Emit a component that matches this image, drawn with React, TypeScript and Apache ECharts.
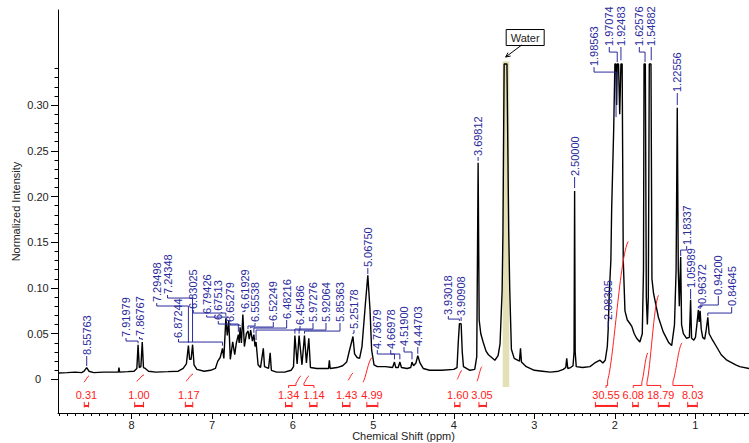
import { useEffect, useRef } from 'react';
import * as echarts from 'echarts';

const FONT = '"Liberation Sans", Arial, sans-serif';
const BLUE = '#2a2a9c';
const RED = '#ff2020';

// Spectrum trace: [chemical shift (ppm), normalized intensity]
const SPECTRUM: [number, number][] = [
  [8.91, 0.007], [8.8, 0.0075], [8.7, 0.008], [8.62, 0.0075], [8.59, 0.009], [8.558, 0.013], [8.53, 0.009],
  [8.47, 0.0075], [8.35, 0.008], [8.22, 0.008], [8.165, 0.008], [8.157, 0.013], [8.149, 0.008], [8.05, 0.0085],
  [7.97, 0.009], [7.935, 0.012], [7.92, 0.038], [7.905, 0.013], [7.885, 0.014], [7.868, 0.041], [7.853, 0.013],
  [7.83, 0.012], [7.79, 0.009], [7.7, 0.008], [7.55, 0.0085], [7.42, 0.009], [7.36, 0.012], [7.32, 0.017],
  [7.295, 0.037], [7.28, 0.022], [7.262, 0.022], [7.243, 0.038], [7.225, 0.016], [7.19, 0.011], [7.1, 0.009],
  [7.02, 0.01], [6.96, 0.012], [6.93, 0.02], [6.9, 0.024], [6.872, 0.034], [6.855, 0.023], [6.83, 0.067],
  [6.812, 0.048], [6.794, 0.065], [6.775, 0.022], [6.745, 0.041], [6.72, 0.027], [6.7, 0.04], [6.675, 0.049],
  [6.665, 0.04], [6.653, 0.057], [6.637, 0.04], [6.619, 0.071], [6.6, 0.036], [6.575, 0.05], [6.555, 0.053],
  [6.54, 0.044], [6.522, 0.054], [6.5, 0.042], [6.482, 0.049], [6.468, 0.036], [6.455, 0.041], [6.43, 0.016],
  [6.4, 0.013], [6.365, 0.034], [6.35, 0.014], [6.3, 0.012], [6.28, 0.029], [6.265, 0.01], [6.2, 0.008],
  [6.1, 0.008], [6.02, 0.01], [5.99, 0.014], [5.973, 0.048], [5.945, 0.017], [5.921, 0.048], [5.885, 0.016],
  [5.854, 0.048], [5.83, 0.018], [5.8, 0.045], [5.78, 0.013], [5.7, 0.012], [5.6, 0.012], [5.555, 0.012],
  [5.545, 0.021], [5.535, 0.012], [5.45, 0.013], [5.38, 0.015], [5.33, 0.019], [5.3, 0.03], [5.252, 0.047],
  [5.232, 0.028], [5.2, 0.024], [5.17, 0.023], [5.14, 0.036], [5.1, 0.08], [5.0675, 0.114], [5.04, 0.076],
  [5.02, 0.032], [4.99, 0.016], [4.95, 0.014], [4.85, 0.014], [4.76, 0.013], [4.737, 0.019], [4.72, 0.013],
  [4.69, 0.013], [4.67, 0.019], [4.65, 0.013], [4.58, 0.012], [4.535, 0.013], [4.519, 0.019], [4.5, 0.015],
  [4.47, 0.018], [4.447, 0.026], [4.42, 0.018], [4.38, 0.012], [4.3, 0.01], [4.15, 0.01], [4.0, 0.011],
  [3.96, 0.013], [3.945, 0.04], [3.93, 0.061], [3.909, 0.061], [3.895, 0.03], [3.88, 0.014], [3.8, 0.01],
  [3.74, 0.011], [3.715, 0.025], [3.698, 0.237], [3.685, 0.065], [3.665, 0.05], [3.636, 0.041], [3.6, 0.031],
  [3.57, 0.027], [3.49, 0.021], [3.45, 0.026], [3.426, 0.039], [3.4, 0.097], [3.39, 0.16], [3.375, 0.345],
  [3.34, 0.345], [3.318, 0.16], [3.305, 0.097], [3.285, 0.033], [3.25, 0.023], [3.185, 0.02], [3.172, 0.034],
  [3.16, 0.019], [3.1, 0.014], [3.0, 0.01], [2.9, 0.009], [2.8, 0.008], [2.7, 0.009], [2.64, 0.011],
  [2.61, 0.013], [2.598, 0.023], [2.585, 0.012], [2.55, 0.013], [2.52, 0.015], [2.507, 0.03], [2.5, 0.206],
  [2.493, 0.03], [2.48, 0.014], [2.4, 0.013], [2.31, 0.014], [2.25, 0.018], [2.185, 0.021], [2.15, 0.018],
  [2.12, 0.021], [2.094, 0.036], [2.083, 0.055], [2.07, 0.094], [2.05, 0.13], [2.04, 0.187], [2.015, 0.273],
  [2.0, 0.345], [1.986, 0.345], [1.978, 0.3], [1.971, 0.345], [1.955, 0.345], [1.94, 0.29], [1.925, 0.345],
  [1.91, 0.345], [1.896, 0.13], [1.875, 0.075], [1.846, 0.065], [1.82, 0.062], [1.79, 0.058], [1.76, 0.05],
  [1.73, 0.045], [1.69, 0.041], [1.66, 0.05], [1.645, 0.12], [1.638, 0.345], [1.622, 0.345], [1.61, 0.09],
  [1.597, 0.06], [1.585, 0.09], [1.573, 0.345], [1.552, 0.345], [1.54, 0.11], [1.52, 0.094], [1.46, 0.068],
  [1.4, 0.052], [1.33, 0.04], [1.295, 0.037], [1.26, 0.06], [1.24, 0.12], [1.2256, 0.297], [1.213, 0.12],
  [1.2, 0.08], [1.1834, 0.134], [1.172, 0.06], [1.15, 0.05], [1.11, 0.045], [1.075, 0.046], [1.06, 0.087],
  [1.048, 0.045], [1.02, 0.043], [1.0, 0.046], [0.982, 0.06], [0.9637, 0.076], [0.953, 0.063], [0.942, 0.075],
  [0.928, 0.055], [0.91, 0.046], [0.885, 0.044], [0.865, 0.055], [0.8465, 0.068], [0.83, 0.05], [0.8, 0.045],
  [0.74, 0.036], [0.68, 0.027], [0.61, 0.021], [0.5, 0.016], [0.45, 0.014], [0.335, 0.012],
];

// Peak labels
const PEAK_PPM = [
  8.55763, 7.91979, 7.86767, 7.29498, 7.24348, 6.87244, 6.83025, 6.79426, 6.67513, 6.65279,
  6.61929, 6.55538, 6.52249, 6.48216, 6.45486, 5.97276, 5.92064, 5.85363, 5.25178, 5.0675,
  4.73679, 4.66978, 4.519, 4.44703, 3.93018, 3.90908, 3.69812, 2.5, 2.08305, 1.98563,
  1.97074, 1.92483, 1.62576, 1.54882, 1.22556, 1.18337, 1.05989, 0.96372, 0.942, 0.84645,
];
const PEAK_TIP = [
  0.0147, 0.0395, 0.043, 0.04, 0.041, 0.037, 0.0695, 0.0675, 0.052, 0.0584,
  0.0735, 0.055, 0.056, 0.051, 0.043, 0.05, 0.05, 0.05, 0.05, 0.1153,
  0.022, 0.022, 0.022, 0.028, 0.064, 0.064, 0.239, 0.2093, 0.057, 0.2869,
  0.347, 0.349, 0.347, 0.349, 0.3, 0.1349, 0.088, 0.078, 0.077, 0.0695,
];
const PEAK_ELBOW = [
  0.0256, 0.042, 0.0445, 0.0803, 0.089, 0.0409, 0.0726, 0.0682, 0.0606, 0.0595,
  0.0745, 0.0584, 0.0573, 0.0562, 0.054, 0.0551, 0.054, 0.0529, 0.0507, 0.1218,
  0.0278, 0.0278, 0.03, 0.0354, 0.066, 0.0682, 0.2432, 0.2213, 0.0639, 0.3361,
  0.358, 0.3635, 0.358, 0.3635, 0.3132, 0.1415, 0.0989, 0.0795, 0.0814, 0.0726,
];
const PEAK_LABEL_AT = [
  8.55763, 8.0695, 7.902, 7.688, 7.554, 7.418, 7.234, 7.068, 6.924, 6.778,
  6.592, 6.468, 6.241, 6.075, 5.909, 5.748, 5.587, 5.413, 5.239, 5.0675,
  4.95, 4.783, 4.618, 4.44703, 4.068, 3.90908, 3.69812, 2.5, 2.08305, 2.259,
  2.07, 1.92483, 1.697, 1.54882, 1.22556, 1.109, 1.05989, 0.919, 0.716, 0.55,
];
const PEAK_LABEL_BASE = [
  0.0256, 0.0453, 0.0464, 0.0835, 0.0923, 0.0442, 0.0759, 0.0704, 0.0639, 0.0617,
  0.0759, 0.0617, 0.0628, 0.065, 0.0584, 0.0617, 0.0617, 0.0617, 0.054, 0.1218,
  0.0321, 0.0321, 0.0354, 0.0354, 0.0693, 0.0682, 0.2432, 0.2213, 0.0639, 0.3416,
  0.3635, 0.3635, 0.3635, 0.3635, 0.3132, 0.1459, 0.0989, 0.0814, 0.0912, 0.0792,
];

// Integrals
const INTEGRAL_VALUES = [0.31, 1.0, 1.17, 1.34, 1.14, 1.43, 4.99, 1.6, 3.05, 30.55, 6.08, 18.79, 8.03];
const INTEGRAL_FROM = [8.588, 7.962, 7.333, 6.089, 5.789, 5.381, 5.08, 3.989, 3.688, 2.242, 1.779, 1.461, 1.096];
const INTEGRAL_TO = [8.534, 7.852, 7.241, 6.009, 5.698, 5.289, 4.943, 3.923, 3.595, 1.969, 1.71, 1.325, 0.977];
const INTEGRAL_TEXT_AT = [8.561, 7.908, 7.29, 6.051, 5.736, 5.331, 5.016, 3.95, 3.65, 2.11, 1.772, 1.431, 1.034];
const CURVE_FROM = [8.591, 7.937, 7.325, 5.959, 5.86, 5.313, 5.127, 3.96, 3.712, 2.09, 1.666, 1.602, 1.279];
const CURVE_TO = [8.529, 7.846, 7.238, 5.897, 5.798, 5.251, 5.016, 3.898, 3.65, 1.834, 1.592, 1.459, 1.167];
const CURVE_LOW = [-0.003, -0.002, -0.002, -0.004, -0.004, -0.001, -0.003, 0, -0.002, -0.001, -0.003, -0.003, -0.002];
const CURVE_HIGH = [0.004, 0.005, 0.006, 0.004, 0.004, 0.007, 0.024, 0.01, 0.014, 0.151, 0.029, 0.092, 0.04];

// Solvent annotation
const WATER_PPM = 3.356;
const WATER_BOX_BOTTOM = 0.3657;
const WATER_BAND = [3.393, 3.311];
const WATER_BAND_Y = [-0.0083, 0.348];

// Axes
const X_MIN = 0.335;
const X_MAX = 8.914;
const Y_MIN = -0.0367;
const Y_MAX = 0.404;
const X_TICKS = [1, 2, 3, 4, 5, 6, 7, 8];
const Y_TICKS = [0, 0.05, 0.1, 0.15, 0.2, 0.25, 0.3];
const X_MINOR: number[] = [];
for (let k = 4; k <= 89; k++) X_MINOR.push(k / 10);
const Y_MINOR: number[] = [];
for (let k = 0; k <= 34; k++) Y_MINOR.push(k / 100);

export default function App() {
  const ref = useRef<HTMLDivElement>(null);

  useEffect(() => {
    if (!ref.current) return;
    const chart = echarts.init(ref.current, null, { renderer: 'svg' });

    const peakData = PEAK_PPM.map((p, i) => [p, PEAK_TIP[i], PEAK_ELBOW[i], PEAK_LABEL_AT[i], PEAK_LABEL_BASE[i]]);
    const integralData = INTEGRAL_VALUES.map((v, i) => [INTEGRAL_TEXT_AT[i], 0, v]);

    const option: any = {
      animation: false,
      backgroundColor: '#ffffff',
      grid: { left: 58, right: 0, top: 10, bottom: 30, containLabel: false, outerBoundsMode: 'none' },
      xAxis: [
        {
          type: 'value',
          min: X_MIN,
          max: X_MAX,
          inverse: true,
          position: 'bottom',
          name: 'Chemical Shift (ppm)',
          nameLocation: 'middle',
          nameGap: 17,
          nameMoveOverlap: false,
          nameTextStyle: { fontSize: 11, color: '#222', fontFamily: FONT },
          axisLine: { show: true, onZero: false, lineStyle: { color: '#000', width: 1 } },
          axisTick: { show: true, customValues: X_TICKS, length: 6, lineStyle: { color: '#000' } },
          axisLabel: {
            show: true,
            customValues: X_TICKS,
            formatter: (v: number) => String(Math.round(v)),
            fontSize: 11,
            color: '#222',
            fontFamily: FONT,
            margin: 6,
          },
          splitLine: { show: false },
        },
        {
          type: 'value',
          min: X_MIN,
          max: X_MAX,
          inverse: true,
          position: 'bottom',
          axisLine: { show: false, onZero: false },
          axisTick: { show: true, customValues: X_MINOR, length: 3, lineStyle: { color: '#000' } },
          axisLabel: { show: false },
          splitLine: { show: false },
        },
      ],
      yAxis: [
        {
          type: 'value',
          min: Y_MIN,
          max: Y_MAX,
          position: 'left',
          name: 'Normalized Intensity',
          nameLocation: 'middle',
          nameRotate: 90,
          nameGap: 37,
          nameMoveOverlap: false,
          nameTextStyle: { fontSize: 11, color: '#222', fontFamily: FONT },
          axisLine: { show: true, onZero: false, lineStyle: { color: '#000', width: 1 } },
          axisTick: { show: true, customValues: Y_TICKS, length: 7, lineStyle: { color: '#000' } },
          axisLabel: {
            show: true,
            customValues: Y_TICKS,
            formatter: (v: number) => (Math.abs(v) < 1e-9 ? '0' : v.toFixed(2)),
            fontSize: 11,
            color: '#222',
            fontFamily: FONT,
            align: 'center',
            margin: 20,
          },
          splitLine: { show: false },
        },
        {
          type: 'value',
          min: Y_MIN,
          max: Y_MAX,
          position: 'left',
          axisLine: { show: false, onZero: false },
          axisTick: { show: true, customValues: Y_MINOR, length: 3.5, lineStyle: { color: '#000' } },
          axisLabel: { show: false },
          splitLine: { show: false },
        },
      ],
      series: [
        {
          type: 'custom',
          z: 1,
          silent: true,
          clip: false,
          data: [[WATER_BAND[0], WATER_BAND_Y[1], WATER_BAND[1], WATER_BAND_Y[0]]],
          encode: { x: 0, y: 1 },
          renderItem: (_p: any, api: any) => {
            const a = api.coord([api.value(0), api.value(1)]);
            const b = api.coord([api.value(2), api.value(3)]);
            return {
              type: 'rect',
              shape: { x: Math.min(a[0], b[0]), y: a[1], width: Math.abs(b[0] - a[0]), height: b[1] - a[1] },
              style: { fill: '#e3e0b6', stroke: null },
            };
          },
        },
        {
          type: 'line',
          z: 3,
          data: SPECTRUM,
          showSymbol: false,
          symbol: 'none',
          clip: true,
          silent: true,
          lineStyle: { color: '#000', width: 1.4 },
        },
        {
          type: 'custom',
          z: 4,
          silent: true,
          clip: false,
          data: peakData,
          encode: { x: 0, y: 1 },
          renderItem: (params: any, api: any) => {
            const i = params.dataIndex;
            const tip = api.coord([api.value(0), api.value(1)]);
            const elbowY = api.coord([api.value(0), api.value(2)])[1];
            const lab = api.coord([api.value(3), api.value(4)]);
            const points = [
              [tip[0], tip[1]],
              [tip[0], elbowY],
              [lab[0], elbowY],
              [lab[0], lab[1]],
            ];
            return {
              type: 'group',
              children: [
                { type: 'polyline', shape: { points }, style: { stroke: BLUE, lineWidth: 1, fill: null } },
                {
                  type: 'text',
                  x: lab[0],
                  y: lab[1] - 1,
                  rotation: Math.PI / 2,
                  style: {
                    text: PEAK_PPM[i].toFixed(5),
                    fill: BLUE,
                    fontSize: 11,
                    fontFamily: FONT,
                    align: 'left',
                    verticalAlign: 'middle',
                  },
                },
              ],
            };
          },
        },
        {
          type: 'custom',
          z: 4,
          silent: true,
          clip: false,
          data: integralData,
          encode: { x: 0, y: 1 },
          renderItem: (params: any, api: any) => {
            const i = params.dataIndex;
            const base = api.coord([api.value(0), 0]);
            const tx = base[0];
            const y0 = base[1];
            const c0 = api.coord([CURVE_FROM[i], CURVE_LOW[i]]);
            const c1 = api.coord([CURVE_TO[i], CURVE_HIGH[i]]);
            const b0 = api.coord([INTEGRAL_FROM[i], 0])[0];
            const b1 = api.coord([INTEGRAL_TO[i], 0])[0];
            const dx = c1[0] - c0[0];
            const dy = c1[1] - c0[1];
            const children: any[] = [
              {
                type: 'bezierCurve',
                shape: {
                  x1: c0[0], y1: c0[1], x2: c1[0], y2: c1[1],
                  cpx1: c0[0] + dx * 0.3, cpy1: c0[1] + dy * 0.15,
                  cpx2: c0[0] + dx * 0.6, cpy2: c0[1] + dy * 0.9,
                },
                style: { stroke: RED, lineWidth: 1, fill: null },
              },
              {
                type: 'text',
                x: tx,
                y: y0 + 15.6,
                style: {
                  text: (api.value(2) as number).toFixed(2),
                  fill: RED,
                  fontSize: 11,
                  fontFamily: FONT,
                  align: 'center',
                  verticalAlign: 'middle',
                },
              },
              { type: 'line', shape: { x1: b0, y1: y0 + 22.5, x2: b0, y2: y0 + 28 }, style: { stroke: RED, lineWidth: 1 } },
              { type: 'line', shape: { x1: b1, y1: y0 + 22.5, x2: b1, y2: y0 + 28 }, style: { stroke: RED, lineWidth: 1 } },
              { type: 'line', shape: { x1: b0, y1: y0 + 26.5, x2: b1, y2: y0 + 26.5 }, style: { stroke: RED, lineWidth: 2 } },
            ];
            const lo = Math.min(c0[0], c1[0]);
            const hi = Math.max(c0[0], c1[0]);
            if (tx < lo - 1.5 || tx > hi + 1.5) {
              children.push({
                type: 'polyline',
                shape: {
                  points: [
                    [c0[0], c0[1]],
                    [c0[0], y0 + 6],
                    [tx, y0 + 6],
                    [tx, y0 + 8.5],
                  ],
                },
                style: { stroke: RED, lineWidth: 1, fill: null },
              });
            }
            return { type: 'group', children };
          },
        },
        {
          type: 'custom',
          z: 5,
          silent: true,
          clip: false,
          data: [[WATER_PPM, WATER_BOX_BOTTOM]],
          encode: { x: 0, y: 1 },
          renderItem: (_p: any, api: any) => {
            const p = api.coord([api.value(0), api.value(1)]);
            const bx = p[0];
            const by = p[1];
            const w = 38;
            const h = 16;
            const tail = [bx + 16, by];
            const tipPt = [bx, by + 12];
            const ang = Math.atan2(tail[1] - tipPt[1], tail[0] - tipPt[0]);
            const al = 5;
            const a1 = [tipPt[0] + al * Math.cos(ang + 0.45), tipPt[1] + al * Math.sin(ang + 0.45)];
            const a2 = [tipPt[0] + al * Math.cos(ang - 0.45), tipPt[1] + al * Math.sin(ang - 0.45)];
            return {
              type: 'group',
              children: [
                { type: 'rect', shape: { x: bx + 0.5, y: by - h + 0.5, width: w, height: h }, style: { fill: '#fff', stroke: '#000', lineWidth: 1 } },
                {
                  type: 'text',
                  x: bx + 0.5 + w / 2,
                  y: by - h / 2 + 0.5,
                  style: { text: 'Water', fill: '#222', fontSize: 11, fontFamily: FONT, align: 'center', verticalAlign: 'middle' },
                },
                { type: 'line', shape: { x1: tail[0], y1: tail[1], x2: tipPt[0], y2: tipPt[1] }, style: { stroke: '#000', lineWidth: 1 } },
                { type: 'polyline', shape: { points: [a1, tipPt, a2] }, style: { stroke: '#000', lineWidth: 1, fill: null } },
              ],
            };
          },
        },
      ],
    };

    chart.setOption(option);
    return () => {
      chart.dispose();
    };
  }, []);

  return (
    <div
      ref={ref}
      style={{ position: 'fixed', left: 0, top: 0, width: 749, height: 443, background: '#ffffff' }}
    />
  );
}
